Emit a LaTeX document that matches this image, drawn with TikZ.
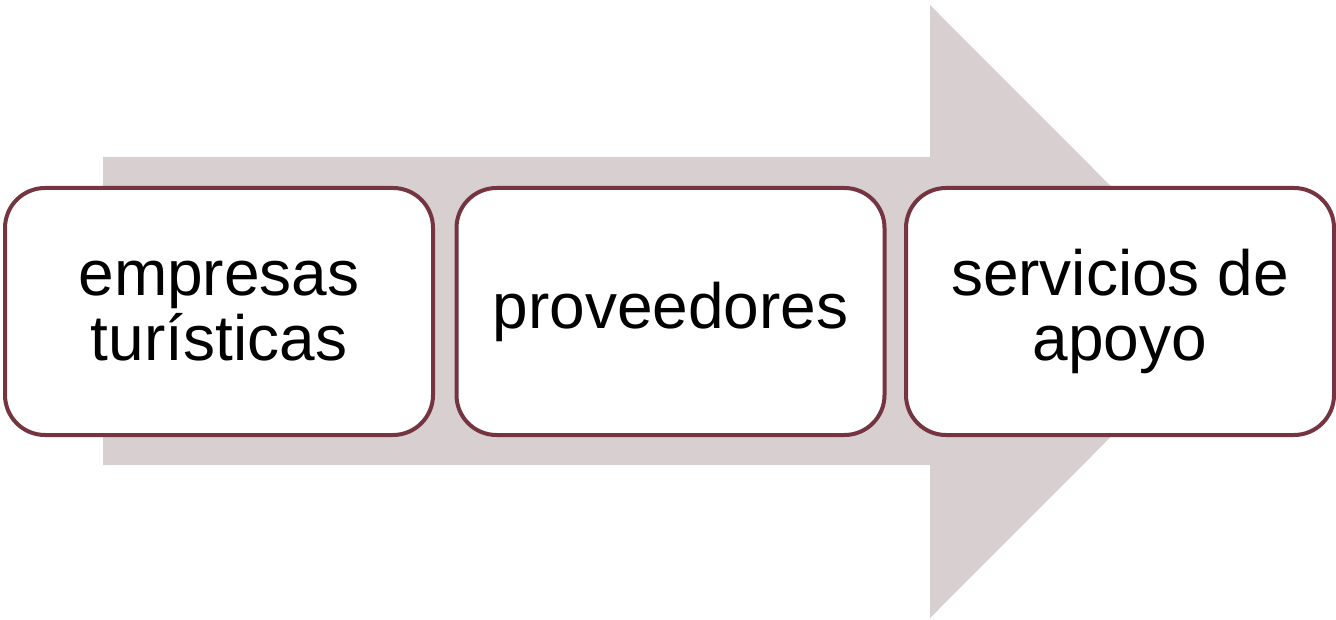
\documentclass[tikz,border=0pt]{standalone}
\usepackage{fontspec}
\setmainfont{Liberation Sans}
\definecolor{arrowfill}{HTML}{D8CFD0}
\definecolor{boxline}{HTML}{743541}
\begin{document}
\begin{tikzpicture}[x=1pt,y=-1pt,
  stepbox/.style={draw=boxline, line width=4pt, fill=white, rounded corners=40pt,
    minimum width=428pt, minimum height=247pt, inner sep=0pt, align=center,
    font=\fontsize{64}{65}\selectfont}]
\useasboundingbox (0,0) rectangle (1336,620);
\fill[arrowfill] (103,157) -- (930,157) -- (930,5) -- (1236,311.5) -- (930,618) -- (930,465) -- (103,465) -- cycle;
\node[stepbox] (b1) at (219,311.5) {empresas\\tur\'isticas};
\node[stepbox] (b2) at (670.5,311.5) {proveedores};
\node[stepbox] (b3) at (1120,311.5) {servicios de\\apoyo};
\end{tikzpicture}
\end{document}
